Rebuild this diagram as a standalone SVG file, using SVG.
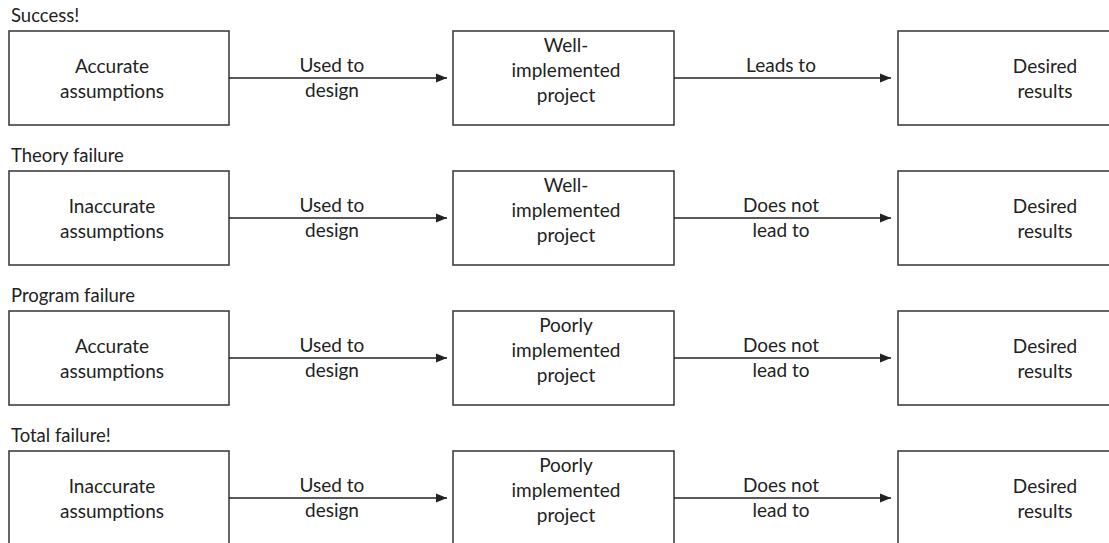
<svg xmlns="http://www.w3.org/2000/svg" width="1109" height="543" viewBox="0 0 1109 543">
<style>
.box{fill:#fff;stroke:#333;stroke-width:1.5}
.t{font-family:Lato,"Liberation Sans",sans-serif;font-size:19px;fill:#222;text-anchor:middle}
.h{font-family:Lato,"Liberation Sans",sans-serif;font-size:18.5px;fill:#222}
.c{stroke:#222;stroke-width:1.5;fill:none}
</style>
<defs>
<marker id="ah" markerWidth="12" markerHeight="10" refX="11" refY="5" orient="auto" markerUnits="userSpaceOnUse">
<path d="M0,0.5 L11,5 L0,9.5 Z" fill="#222"/>
</marker>
</defs>
<rect width="1109" height="543" fill="#fff"/>

<!-- Row 1 -->
<text class="h" x="11" y="22">Success!</text>
<g id="r1-a"><rect class="box" x="9" y="31" width="220" height="94"/><text class="t" x="112" y="73">Accurate</text><text class="t" x="112" y="98">assumptions</text></g>
<g id="r1-b"><rect class="box" x="453" y="31" width="221" height="94"/><text class="t" x="566" y="52">Well-</text><text class="t" x="566" y="77">implemented</text><text class="t" x="566" y="102">project</text></g>
<g id="r1-c"><rect class="box" x="898" y="31" width="220" height="94"/><text class="t" x="1045" y="73">Desired</text><text class="t" x="1045" y="98">results</text></g>

<!-- Row 2 -->
<text class="h" x="11" y="162">Theory failure</text>
<g id="r2-a"><rect class="box" x="9" y="171" width="220" height="94"/><text class="t" x="112" y="213">Inaccurate</text><text class="t" x="112" y="238">assumptions</text></g>
<g id="r2-b"><rect class="box" x="453" y="171" width="221" height="94"/><text class="t" x="566" y="192">Well-</text><text class="t" x="566" y="217">implemented</text><text class="t" x="566" y="242">project</text></g>
<g id="r2-c"><rect class="box" x="898" y="171" width="220" height="94"/><text class="t" x="1045" y="213">Desired</text><text class="t" x="1045" y="238">results</text></g>

<!-- Row 3 -->
<text class="h" x="11" y="302">Program failure</text>
<g id="r3-a"><rect class="box" x="9" y="311" width="220" height="94"/><text class="t" x="112" y="353">Accurate</text><text class="t" x="112" y="378">assumptions</text></g>
<g id="r3-b"><rect class="box" x="453" y="311" width="221" height="94"/><text class="t" x="566" y="332">Poorly</text><text class="t" x="566" y="357">implemented</text><text class="t" x="566" y="382">project</text></g>
<g id="r3-c"><rect class="box" x="898" y="311" width="220" height="94"/><text class="t" x="1045" y="353">Desired</text><text class="t" x="1045" y="378">results</text></g>

<!-- Row 4 -->
<text class="h" x="11" y="442">Total failure!</text>
<g id="r4-a"><rect class="box" x="9" y="451" width="220" height="100"/><text class="t" x="112" y="493">Inaccurate</text><text class="t" x="112" y="518">assumptions</text></g>
<g id="r4-b"><rect class="box" x="453" y="451" width="221" height="100"/><text class="t" x="566" y="472">Poorly</text><text class="t" x="566" y="497">implemented</text><text class="t" x="566" y="522">project</text></g>
<g id="r4-c"><rect class="box" x="898" y="451" width="220" height="100"/><text class="t" x="1045" y="493">Desired</text><text class="t" x="1045" y="518">results</text></g>

<g id="connectors">
<line class="c" x1="229" y1="78" x2="447" y2="78" marker-end="url(#ah)"/>
<line class="c" x1="674" y1="78" x2="891" y2="78" marker-end="url(#ah)"/>
<line class="c" x1="229" y1="218" x2="447" y2="218" marker-end="url(#ah)"/>
<line class="c" x1="674" y1="218" x2="891" y2="218" marker-end="url(#ah)"/>
<line class="c" x1="229" y1="358" x2="447" y2="358" marker-end="url(#ah)"/>
<line class="c" x1="674" y1="358" x2="891" y2="358" marker-end="url(#ah)"/>
<line class="c" x1="229" y1="498" x2="447" y2="498" marker-end="url(#ah)"/>
<line class="c" x1="674" y1="498" x2="891" y2="498" marker-end="url(#ah)"/>
</g>
<g id="labels">
<text class="t" x="332" y="72">Used to</text><text class="t" x="332" y="97">design</text>
<text class="t" x="781" y="72">Leads to</text>
<text class="t" x="332" y="212">Used to</text><text class="t" x="332" y="237">design</text>
<text class="t" x="781" y="212">Does not</text><text class="t" x="781" y="237">lead to</text>
<text class="t" x="332" y="352">Used to</text><text class="t" x="332" y="377">design</text>
<text class="t" x="781" y="352">Does not</text><text class="t" x="781" y="377">lead to</text>
<text class="t" x="332" y="492">Used to</text><text class="t" x="332" y="517">design</text>
<text class="t" x="781" y="492">Does not</text><text class="t" x="781" y="517">lead to</text>
</g>
</svg>
